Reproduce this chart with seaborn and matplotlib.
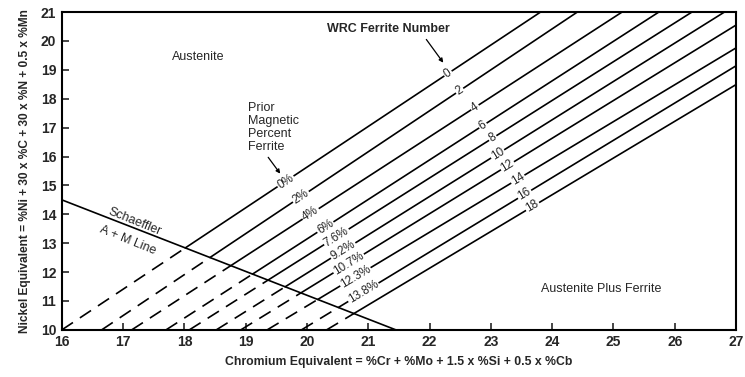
import numpy as np
import pandas as pd
import matplotlib
matplotlib.use("Agg")
import matplotlib.pyplot as plt
import seaborn as sns

# WRC ferrite number lines: start on the bottom edge (Ni eq = 10),
# end on the top or right edge of the diagram
fn_numbers = [0, 2, 4, 6, 8, 10, 12, 14, 16, 18]
pct_ferrite = ["0%", "2%", "4%", "6%", "7.6%", "9.2%", "10.7%", "12.3%", "13.8%"]
start_cr = [16.0, 16.65, 17.14, 17.70, 18.08, 18.52, 18.92, 19.35, 19.91, 20.32]
start_ni = [10, 10, 10, 10, 10, 10, 10, 10, 10, 10]
end_cr = [23.81, 24.41, 25.14, 25.74, 26.28, 26.81, 27, 27, 27, 27]
end_ni = [21, 21, 21, 21, 21, 21, 20.55, 19.76, 19.14, 18.49]

# Schaeffler A+M line
schaeffler_cr = [16, 21.45]
schaeffler_ni = [14.5, 10]

x_ticks = list(range(16, 28))
y_ticks = list(range(10, 22))

# where the labels sit along each line (Cr eq)
fn_label_cr = [22.30, 22.49, 22.74, 22.87, 23.03, 23.11, 23.27, 23.44, 23.55, 23.68]
pct_label_cr = [19.65, 19.90, 20.06, 20.30, 20.48, 20.59, 20.68, 20.79, 20.92]

sns.set_style("ticks")
plt.rcParams['font.family'] = ['Liberation Sans', 'DejaVu Sans']

fig = plt.figure(figsize=(7.45, 3.77), dpi=100)
ax = fig.add_axes([0.083, 0.125, 0.905, 0.843])

# schaeffler line
k = (schaeffler_ni[0] - schaeffler_ni[1]) / (schaeffler_cr[1] - schaeffler_cr[0])
sns.lineplot(x=schaeffler_cr, y=schaeffler_ni, ax=ax, color='black', lw=1.2)

slopes = []
for i in range(len(fn_numbers)):
    x0, y0, x1, y1 = start_cr[i], start_ni[i], end_cr[i], end_ni[i]
    m = (y1 - y0) / (x1 - x0)
    slopes.append(m)
    # crossing with the schaeffler line: dashed below, solid above
    xc = (schaeffler_ni[0] + k * schaeffler_cr[0] - y0 + m * x0) / (m + k)
    yc = y0 + m * (xc - x0)
    sns.lineplot(x=[x0, xc], y=[y0, yc], ax=ax, color='black', lw=1.2,
                 linestyle=(0, (8, 5)))
    sns.lineplot(x=[xc, x1], y=[yc, y1], ax=ax, color='black', lw=1.2)

box = dict(facecolor='white', edgecolor='none', pad=0.8)
for i, num in enumerate(fn_numbers):
    m = slopes[i]
    x = fn_label_cr[i]
    y = start_ni[i] + m * (x - start_cr[i])
    ax.text(x, y, str(num), ha='center', va='center', fontsize=8.5,
            rotation=np.degrees(np.arctan(m)), transform_rotates_text=True,
            rotation_mode='anchor', bbox=box, zorder=5)

for i, lab in enumerate(pct_ferrite):
    m = slopes[i]
    x = pct_label_cr[i]
    y = start_ni[i] + m * (x - start_cr[i])
    ax.text(x, y, lab, ha='center', va='center', fontsize=8.5,
            rotation=np.degrees(np.arctan(m)), transform_rotates_text=True,
            rotation_mode='anchor', bbox=box, zorder=5)

# region names and notes
ax.text(18.23, 19.44, "Austenite", ha='center', va='center', fontsize=9)
ax.text(24.8, 11.42, "Austenite Plus Ferrite", ha='center', va='center', fontsize=9)
ax.text(21.32, 20.41, "WRC Ferrite Number", ha='center', va='center', fontsize=9,
        fontweight='bold')
ax.annotate("", xy=(22.25, 19.17), xytext=(21.92, 20.13),
            arrowprops=dict(arrowstyle='-|>', color='black', lw=0.9, mutation_scale=6))
ax.text(19.03, 17.0, "Prior\nMagnetic\nPercent\nFerrite", ha='left', va='center',
        fontsize=9, linespacing=1.1)
ax.annotate("", xy=(19.59, 15.33), xytext=(19.34, 16.05),
            arrowprops=dict(arrowstyle='-|>', color='black', lw=0.9, mutation_scale=6))
ax.text(17.18, 13.73, "Schaeffler", ha='center', va='center', fontsize=9,
        rotation=-22)
ax.text(17.07, 13.11, "A + M Line", ha='center', va='center', fontsize=9,
        rotation=-22)

ax.set_xlim(16, 27)
ax.set_ylim(10, 21)
ax.set_xticks(x_ticks)
ax.set_yticks(y_ticks)
ax.tick_params(direction='in', length=5, width=1.2, labelsize=10, pad=4)
for t in ax.get_xticklabels() + ax.get_yticklabels():
    t.set_fontweight('bold')
for s in ax.spines.values():
    s.set_linewidth(1.5)
    s.set_color('black')

ax.set_xlabel("Chromium Equivalent = %Cr + %Mo + 1.5 x %Si + 0.5 x %Cb",
              fontsize=8.8, fontweight='bold', labelpad=5)
ax.set_ylabel("Nickel Equivalent = %Ni + 30 x %C + 30 x %N + 0.5 x %Mn",
              fontsize=8.6, fontweight='bold', labelpad=7)

fig.savefig("out.png", dpi=100)
